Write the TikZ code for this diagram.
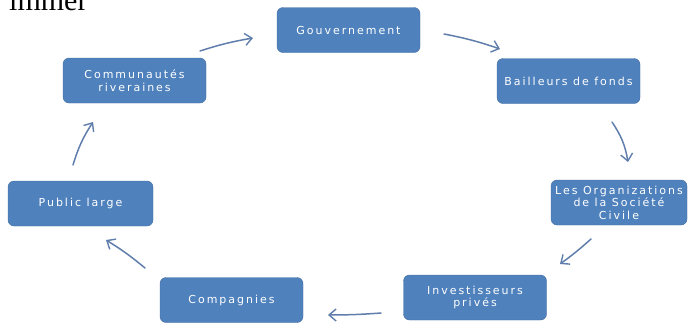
\documentclass[tikz,border=0pt]{standalone}
\usepackage{fontspec}
\setmainfont{Liberation Serif}
\newfontfamily\boxfont[LetterSpace=18]{DejaVu Sans}
\usetikzlibrary{arrows.meta}
\definecolor{boxblue}{RGB}{79,129,189}
\definecolor{arrowblue}{RGB}{96,126,172}
\tikzset{
  stage/.style={rectangle, rounded corners=6pt, fill=boxblue, draw=boxblue!85!black, line width=0.4pt,
    minimum width=143pt, minimum height=45pt, text=white, align=center,
    font=\boxfont\fontsize{11}{12.5}\selectfont, inner sep=2pt},
  flow/.style={draw=arrowblue, line width=1.5pt, line cap=round,
    -{Straight Barb[length=7pt,width=12pt,line width=1.4pt]}}
}
\begin{document}
\begin{tikzpicture}[x=1pt,y=-1pt]
\useasboundingbox (0,0) rectangle (688,322);
\begin{scope}
\clip (0,0) rectangle (688,322);
\node[anchor=base west, inner sep=0pt, font=\fontsize{30}{32}\selectfont] (frag) at (9,10) {immer};
\end{scope}

\node[stage] (gouv) at (348.5,30) {Gouvernement};
\node[stage] (bail) at (568.5,81) {Bailleurs de fonds};
\node[stage, minimum width=136pt] (osc) at (619,202.5) {Les Organizations\\de la Société\\Civile};
\node[stage] (inv) at (475,297.5) {Investisseurs\\privés};
\node[stage] (comp) at (231.5,300) {Compagnies};
\node[stage, minimum width=145pt] (pub) at (80.5,203.5) {Public large};
\node[stage] (comm) at (134.5,80.5) {Communautés\\riveraines};

\coordinate (a1s) at (200,51);  \coordinate (a1e) at (253,38);
\coordinate (a2s) at (444,34);  \coordinate (a2e) at (500,49);
\coordinate (a3s) at (612,122); \coordinate (a3e) at (628,162);
\coordinate (a4s) at (591,239); \coordinate (a4e) at (560,264);
\coordinate (a5s) at (381,313); \coordinate (a5e) at (328,315);
\coordinate (a6s) at (145,268); \coordinate (a6e) at (106,240);
\coordinate (a7s) at (73,165);  \coordinate (a7e) at (93,122);

\draw[flow] (a1s) to[bend left=4] (a1e);
\draw[flow] (a2s) to[bend left=4] (a2e);
\draw[flow] (a3s) to[bend left=12] (a3e);
\draw[flow] (a4s) to[bend left=3] (a4e);
\draw[flow] (a5s) to[bend left=2] (a5e);
\draw[flow] (a6s) to[bend right=4] (a6e);
\draw[flow] (a7s) to[bend left=8] (a7e);
\end{tikzpicture}
\end{document}
